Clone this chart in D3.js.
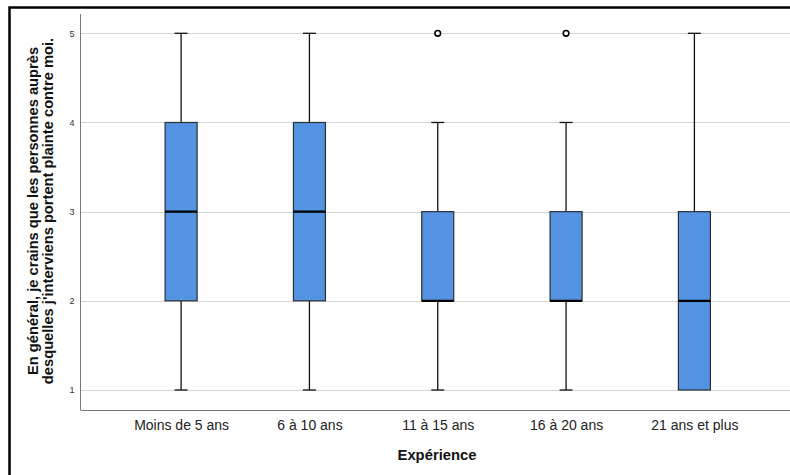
<!DOCTYPE html>
<html><head><meta charset="utf-8">
<script src="https://cdn.jsdelivr.net/npm/d3@7"></script>
<style>body{margin:0;background:#fff;}svg{display:block;font-family:"Liberation Sans",Arial,sans-serif;}</style>
</head><body>
<svg id="c" width="790" height="475"></svg>
<script>
const categories = ["Moins de 5 ans","6 à 10 ans","11 à 15 ans","16 à 20 ans","21 ans et plus"];
const whiskerLow  = [1,1,1,1,1];
const q1Values    = [2,2,2,2,1];
const medians     = [3,3,2,2,2];
const q3Values    = [4,4,3,3,3];
const whiskerHigh = [5,5,4,4,5];
const outliers    = [[],[],[5],[5],[]];
const yTicks = [1,2,3,4,5];
const xTitle = "Expérience";
const yTitleLines = ["En général, je crains que les personnes auprès","desquelles j'interviens portent plainte contre moi."];

const svg = d3.select("#c");
const L = 80.5, R = 795, T = 14, B = 410;
const x = d3.scalePoint().domain(categories).range([L, R]).padding(0.784);
const y = d3.scaleLinear().domain([1,5]).range([390, 33.3]);
const boxW = 32, capW = 13;

// frame
svg.append("rect").attr("x",9.5).attr("y",7.5).attr("width",900).attr("height",600)
  .attr("fill","none").attr("stroke","#000").attr("stroke-width",2.5);

// gridlines
svg.append("g").selectAll("line").data(yTicks).join("line")
  .attr("x1",L).attr("x2",790).attr("y1",d=>Math.round(y(d))+0.5).attr("y2",d=>Math.round(y(d))+0.5)
  .attr("stroke","#d4d4d4").attr("stroke-width",1);

// y axis
const ya = svg.append("g").attr("transform",`translate(${L},0)`)
  .call(d3.axisLeft(y).tickValues(yTicks).tickFormat(d3.format("d")).tickSize(0).tickPadding(6));
ya.select(".domain").remove();
ya.selectAll("text").attr("font-size",9).attr("fill","#333").attr("font-family","Liberation Sans, Arial, sans-serif");
svg.append("line").attr("x1",L).attr("x2",L).attr("y1",T).attr("y2",B).attr("stroke","#777").attr("stroke-width",1);

// x axis
const xa = svg.append("g").attr("transform",`translate(0,${B})`)
  .call(d3.axisBottom(x).tickSize(0).tickPadding(10));
xa.select(".domain").remove();
xa.selectAll("text").attr("font-size",14).attr("fill","#222").attr("font-family","Liberation Sans, Arial, sans-serif");
svg.append("line").attr("x1",L).attr("x2",790).attr("y1",B+0.5).attr("y2",B+0.5).attr("stroke","#777").attr("stroke-width",1);

// boxes
const data = categories.map((c,i)=>({c, lo:whiskerLow[i], q1:q1Values[i], med:medians[i], q3:q3Values[i], hi:whiskerHigh[i], out:outliers[i]}));
const g = svg.append("g").selectAll("g").data(data).join("g");
// whiskers
g.append("line").attr("x1",d=>x(d.c)).attr("x2",d=>x(d.c)).attr("y1",d=>y(d.hi)).attr("y2",d=>y(d.q3)).attr("stroke","#111").attr("stroke-width",1.3);
g.append("line").attr("x1",d=>x(d.c)).attr("x2",d=>x(d.c)).attr("y1",d=>y(d.q1)).attr("y2",d=>y(d.lo)).attr("stroke","#111").attr("stroke-width",1.3);
g.filter(d=>d.hi>d.q3).append("line").attr("x1",d=>x(d.c)-capW/2).attr("x2",d=>x(d.c)+capW/2).attr("y1",d=>y(d.hi)).attr("y2",d=>y(d.hi)).attr("stroke","#111").attr("stroke-width",1.3);
g.filter(d=>d.lo<d.q1).append("line").attr("x1",d=>x(d.c)-capW/2).attr("x2",d=>x(d.c)+capW/2).attr("y1",d=>y(d.lo)).attr("y2",d=>y(d.lo)).attr("stroke","#111").attr("stroke-width",1.3);
// box
g.append("rect").attr("x",d=>x(d.c)-boxW/2).attr("width",boxW).attr("y",d=>y(d.q3)).attr("height",d=>y(d.q1)-y(d.q3))
  .attr("fill","#5493e1").attr("stroke","#2b2f38").attr("stroke-width",1.2);
// median
g.append("line").attr("x1",d=>x(d.c)-boxW/2).attr("x2",d=>x(d.c)+boxW/2).attr("y1",d=>y(d.med)).attr("y2",d=>y(d.med)).attr("stroke","#000").attr("stroke-width",2.2);
// outliers
g.selectAll("circle").data(d=>d.out.map(v=>({c:d.c,v}))).join("circle")
  .attr("cx",d=>x(d.c)).attr("cy",d=>y(d.v)).attr("r",2.8).attr("fill","#fff").attr("stroke","#000").attr("stroke-width",1.6);

// titles
svg.append("text").attr("x",437).attr("y",460).attr("text-anchor","middle").attr("font-size",14.8).attr("font-weight","bold").attr("fill","#111").text(xTitle);
const yt = svg.append("text").attr("transform",`translate(38,211) rotate(-90)`).attr("text-anchor","middle").attr("font-size",14.7).attr("font-weight","bold").attr("fill","#111");
yTitleLines.forEach((t,i)=>yt.append("tspan").attr("x",0).attr("dy",i===0?0:15).text(t));
</script>
</body></html>
